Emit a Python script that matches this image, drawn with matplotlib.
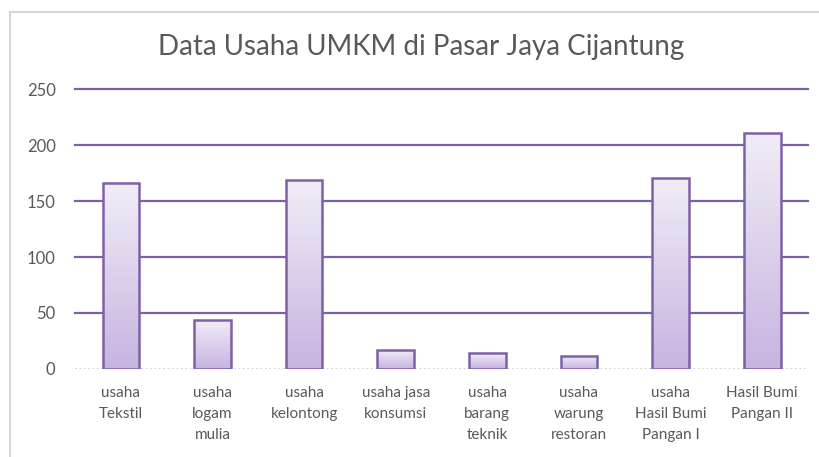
import numpy as np
import matplotlib.pyplot as plt
from matplotlib.colors import LinearSegmentedColormap
from matplotlib.lines import Line2D

# categories and values (jumlah usaha)
categories = ["usaha\nTekstil", "usaha\nlogam\nmulia", "usaha\nkelontong",
              "usaha jasa\nkonsumsi", "usaha\nbarang\nteknik", "usaha\nwarung\nrestoran",
              "usaha\nHasil Bumi\nPangan I", "Hasil Bumi\nPangan II"]
values = [166, 44, 169, 17, 14, 12, 171, 211]
y_ticks = [0, 50, 100, 150, 200, 250]

plt.rcParams['font.family'] = ['Lato', 'DejaVu Sans']

purple = '#7e60a8'
text_gray = '#595959'

fig = plt.figure(figsize=(8.19, 4.57), dpi=100)
ax = fig.add_axes([0.0916, 0.1926, 0.895, 0.6125])

x = np.arange(len(categories))
bars = ax.bar(x, values, width=0.4, facecolor='none', edgecolor=purple,
              linewidth=1.8, zorder=3)

# vertical gradient fill, light at top, darker at the bottom
grad_cmap = LinearSegmentedColormap.from_list('grad', ['#c6b4e0', '#f1edf7'])
grad = np.linspace(0, 1, 256).reshape(-1, 1)
for b in bars:
    x0, w, h = b.get_x(), b.get_width(), b.get_height()
    im = ax.imshow(grad, cmap=grad_cmap, origin='lower', aspect='auto',
                   extent=[x0, x0 + w, 0, h], zorder=2)
    im.set_clip_path(b)

ax.set_xlim(-0.5, len(categories) - 0.5)
ax.set_ylim(0, 250)
ax.set_yticks(y_ticks)
ax.set_xticks(x)
ax.set_xticklabels(categories, fontsize=11, color=text_gray, linespacing=1.65)
ax.tick_params(axis='y', labelsize=12, labelcolor=text_gray, length=0, pad=14)
ax.tick_params(axis='x', length=0, pad=12)

# horizontal gridlines
for t in y_ticks[1:]:
    ax.axhline(t, color=purple, linewidth=1.6, zorder=1, clip_on=False)
ax.axhline(0, color='#c8c8c8', linewidth=1.2, linestyle=':', zorder=1)

for s in ax.spines.values():
    s.set_visible(False)

# chart area border (left and top)
fig.add_artist(Line2D([0.0122, 0.0122], [0, 0.974], color='#d6d6d6', linewidth=1.5,
                      transform=fig.transFigure))
fig.add_artist(Line2D([0.0122, 1.0], [0.974, 0.974], color='#d6d6d6', linewidth=1.5,
                      transform=fig.transFigure))

fig.text(0.514, 0.897, "Data Usaha UMKM di Pasar Jaya Cijantung", ha='center',
         va='center', fontsize=20, color=text_gray)

fig.savefig('out.png', dpi=100)
